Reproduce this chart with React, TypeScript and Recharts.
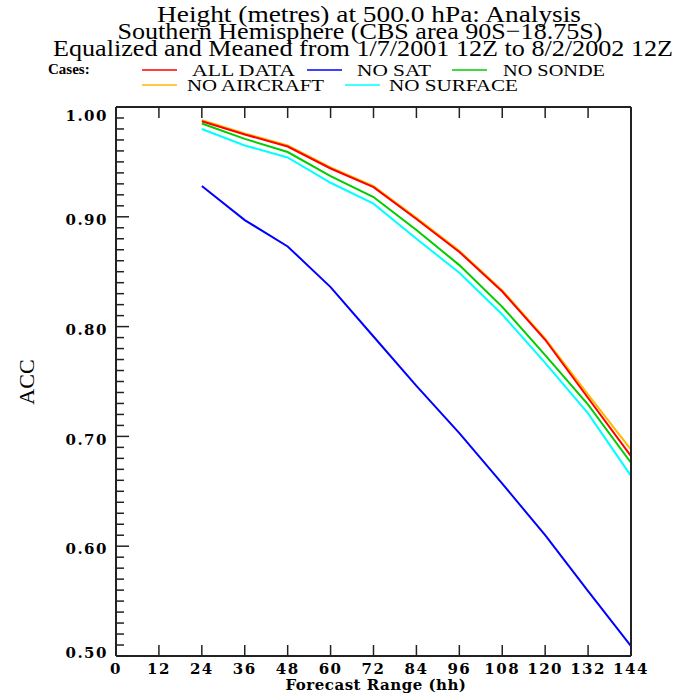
import { LineChart, Line, XAxis, YAxis } from 'recharts'

// forecast range (hh)
const hours = [24, 36, 48, 60, 72, 84, 96, 108, 120, 132, 144]

// anomaly correlation per case
const allData = [0.987, 0.975, 0.964, 0.944, 0.927, 0.898, 0.868, 0.832, 0.788, 0.735, 0.682]
const noSat = [0.928, 0.897, 0.873, 0.836, 0.791, 0.746, 0.703, 0.657, 0.610, 0.559, 0.509]
const noSonde = [0.985, 0.971, 0.959, 0.937, 0.918, 0.888, 0.856, 0.818, 0.774, 0.729, 0.676]
const noAircraft = [0.988, 0.976, 0.965, 0.945, 0.928, 0.899, 0.869, 0.833, 0.789, 0.738, 0.688]
const noSurface = [0.980, 0.965, 0.954, 0.931, 0.912, 0.880, 0.849, 0.811, 0.767, 0.721, 0.664]

const xTicks = [0, 12, 24, 36, 48, 60, 72, 84, 96, 108, 120, 132, 144]
const yLabels = ['0.50', '0.60', '0.70', '0.80', '0.90', '1.00']

// minor ticks every 0.01
const yTicks: number[] = []
for (let i = 50; i <= 100; i++) yTicks.push(i / 100)

const data = hours.map((h, i) => ({
  h,
  allData: allData[i],
  noSat: noSat[i],
  noSonde: noSonde[i],
  noAircraft: noAircraft[i],
  noSurface: noSurface[i],
}))

const AXIS = '#222'
const tickFont = { fontFamily: 'DejaVu Serif', fontWeight: 'bold' as const, fontSize: 15, fill: '#000' }

const isMajor = (v: number) => Math.round(v * 100) % 10 === 0

const BottomTick = ({ x, y, payload }: any) => (
  <g>
    <line x1={x} x2={x} y1={y} y2={y - 11} stroke={AXIS} strokeWidth={1.5} />
    <text x={x} y={y + 18} textAnchor="middle" letterSpacing={1.5} {...tickFont}>
      {payload.value}
    </text>
  </g>
)

const TopTick = ({ x, y }: any) => <line x1={x} x2={x} y1={y} y2={y + 11} stroke={AXIS} strokeWidth={1.5} />

const LeftTick = ({ x, y, payload }: any) => {
  const v = payload.value
  const major = isMajor(v)
  const shift = v === 1 ? 9 : v === 0.5 ? -3 : 3
  const label = major ? yLabels.find(l => Math.abs(parseFloat(l) - v) < 1e-6) : null
  return (
    <g>
      <line x1={x} x2={x + (major ? 13 : 8)} y1={y} y2={y} stroke={AXIS} strokeWidth={1.5} />
      {label && (
        <text x={x - 8} y={y + shift} dy="0.35em" textAnchor="end" letterSpacing={1.5} {...tickFont}>
          {label}
        </text>
      )}
    </g>
  )
}

const RightTick = ({ x, y, payload }: any) => {
  const major = isMajor(payload.value)
  return <line x1={x} x2={x - (major ? 10 : 5)} y1={y} y2={y} stroke={AXIS} strokeWidth={1.5} />
}

const titleLines = [
  { text: 'Height (metres) at 500.0 hPa:  Analysis', x: 369, y: 22, w: 424 },
  { text: 'Southern Hemisphere (CBS area 90S−18.75S)', x: 360, y: 39, w: 485 },
  { text: 'Equalized and Meaned from 1/7/2001 12Z to 8/2/2002 12Z', x: 363, y: 56, w: 620 },
]

const legendItems = [
  { name: 'ALL DATA', color: '#ff0000', x: 142, tx: 192, w: 103, row: 0 },
  { name: 'NO SAT', color: '#0000ff', x: 307, tx: 357, w: 74, row: 0 },
  { name: 'NO SONDE', color: '#00cc00', x: 452, tx: 503, w: 102, row: 0 },
  { name: 'NO AIRCRAFT', color: '#ffb800', x: 142, tx: 187, w: 137, row: 1 },
  { name: 'NO SURFACE', color: '#00ffff', x: 345, tx: 389, w: 129, row: 1 },
]

export default function App() {
  return (
    <div style={{ position: 'absolute', left: 0, top: 0, width: 681, height: 694, background: '#fff' }}>
      <LineChart width={681} height={694} data={data} margin={{ top: 106, right: 49, bottom: 37, left: 115 }}>
        <XAxis
          xAxisId="bottom"
          dataKey="h"
          type="number"
          domain={[0, 144]}
          ticks={xTicks}
          interval={0}
          height={1}
          tickSize={0}
          tickMargin={0}
          tick={<BottomTick />}
          axisLine={{ stroke: AXIS, strokeWidth: 2 }}
        />
        <XAxis
          xAxisId="top"
          orientation="top"
          dataKey="h"
          type="number"
          domain={[0, 144]}
          ticks={xTicks}
          interval={0}
          height={1}
          tickSize={0}
          tickMargin={0}
          tick={<TopTick />}
          axisLine={{ stroke: AXIS, strokeWidth: 2 }}
        />
        <YAxis
          yAxisId="left"
          type="number"
          domain={[0.5, 1]}
          ticks={yTicks}
          interval={0}
          width={1}
          tickSize={0}
          tickMargin={0}
          tick={<LeftTick />}
          axisLine={{ stroke: AXIS, strokeWidth: 2 }}
        />
        <YAxis
          yAxisId="right"
          orientation="right"
          type="number"
          domain={[0.5, 1]}
          ticks={yTicks}
          interval={0}
          width={1}
          tickSize={0}
          tickMargin={0}
          tick={<RightTick />}
          axisLine={{ stroke: AXIS, strokeWidth: 2 }}
        />
        <Line xAxisId="bottom" yAxisId="left" dataKey="noAircraft" stroke="#ffb800" strokeWidth={2} dot={false} isAnimationActive={false} />
        <Line xAxisId="bottom" yAxisId="left" dataKey="noSurface" stroke="#00ffff" strokeWidth={2} dot={false} isAnimationActive={false} />
        <Line xAxisId="bottom" yAxisId="left" dataKey="noSonde" stroke="#00cc00" strokeWidth={2} dot={false} isAnimationActive={false} />
        <Line xAxisId="bottom" yAxisId="left" dataKey="noSat" stroke="#0000ff" strokeWidth={2} dot={false} isAnimationActive={false} />
        <Line xAxisId="bottom" yAxisId="left" dataKey="allData" stroke="#ff0000" strokeWidth={2} dot={false} isAnimationActive={false} />
      </LineChart>

      <svg width={681} height={694} style={{ position: 'absolute', left: 0, top: 0, pointerEvents: 'none' }}>
        <g fontFamily="Liberation Serif" fontSize={24} textAnchor="middle" fill="#000">
          {titleLines.map(t => (
            <text key={t.text} x={t.x} y={t.y} textLength={t.w} lengthAdjust="spacingAndGlyphs">
              {t.text}
            </text>
          ))}
        </g>
        <text x={48} y={74} fontFamily="Liberation Serif" fontWeight="bold" fontSize={15}>Cases:</text>
        {legendItems.map(item => {
          const ly = 70 + item.row * 15
          return (
            <g key={item.name}>
              <line x1={item.x} x2={item.x + 35} y1={ly} y2={ly} stroke={item.color} strokeWidth={1.5} />
              <text x={item.tx} y={ly + 6} fontFamily="Liberation Serif" fontSize={17} textLength={item.w} lengthAdjust="spacingAndGlyphs">
                {item.name}
              </text>
            </g>
          )
        })}
        <text x={376} y={690} textAnchor="middle" fontFamily="DejaVu Serif" fontWeight="bold" fontSize={15} letterSpacing={0.5}>
          Forecast Range (hh)
        </text>
        <text x={34} y={382} textAnchor="middle" fontFamily="Liberation Serif" fontSize={22} transform="rotate(-90 34 382)">
          ACC
        </text>
      </svg>
    </div>
  )
}
